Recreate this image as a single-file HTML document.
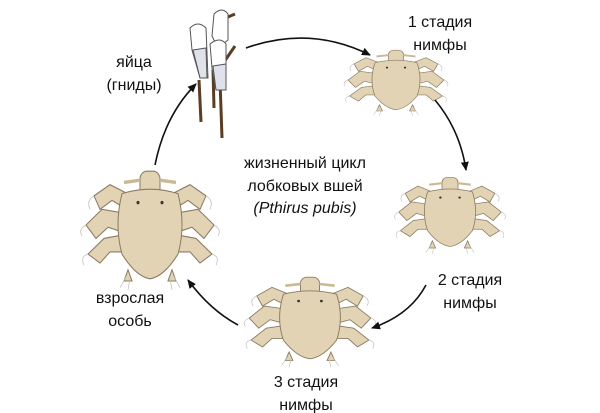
<!DOCTYPE html>
<html><head><meta charset="utf-8"><style>
html,body{margin:0;padding:0;background:#fff;}
svg{display:block}
text{font-family:"Liberation Sans","DejaVu Sans",sans-serif;font-size:16px;fill:#111;text-anchor:middle}
</style></head><body>
<svg width="600" height="413" viewBox="0 0 600 413" xmlns="http://www.w3.org/2000/svg">
<defs>
<marker id="ah" markerWidth="10" markerHeight="10" refX="8" refY="5" orient="auto" markerUnits="userSpaceOnUse">
<path d="M0,1 L9,5 L0,9 Z" fill="#111"/></marker>
<g id="louse">
 <g stroke="#8a7a60" stroke-width="1" fill="#e3d3b5">
  <path d="M-18,-26 L-40,-36 L-56,-26 L-50,-14 L-38,-22 L-20,-12 Z"/>
  <path d="M18,-26 L40,-36 L56,-26 L50,-14 L38,-22 L20,-12 Z"/>
  <path d="M-22,-10 L-48,-14 L-64,0 L-54,12 L-42,2 L-22,8 Z"/>
  <path d="M22,-10 L48,-14 L64,0 L54,12 L42,2 L22,8 Z"/>
  <path d="M-22,8 L-46,12 L-62,26 L-50,34 L-40,24 L-20,24 Z"/>
  <path d="M22,8 L46,12 L62,26 L50,34 L40,24 L20,24 Z"/>
  <rect x="-10" y="-48" width="20" height="24" rx="7"/>
  <path d="M-10,-40 L-26,-38 M10,-40 L26,-38" stroke-width="3" stroke="#cbb894"/>
  <path d="M-28,-28 Q0,-36 28,-28 Q36,0 28,26 Q14,46 0,48 Q-14,46 -28,26 Q-36,0 -28,-28 Z"/>
  <path d="M-22,40 l-4,10 l8,0 Z M22,40 l4,10 l-8,0 Z"/>
 </g>
 <g stroke="#bbb" stroke-width="0.7" fill="none">
  <path d="M-24,46 l-6,10 M-20,48 l-2,10 M24,46 l6,10 M20,48 l2,10 M-56,-26 q-8,4 -4,12 M56,-26 q8,4 4,12 M-64,0 q-8,4 -4,10 M64,0 q8,4 4,10 M-62,26 q-8,2 -4,10 M62,26 q8,2 4,10"/>
 </g>
 <circle cx="-12" cy="-20" r="1.5" fill="#333"/><circle cx="12" cy="-20" r="1.5" fill="#333"/>
</g>
</defs>

<g stroke="#555" stroke-width="1">
 <path d="M199,80 L201,122" stroke="#5a3e24" stroke-width="3"/>
 <path d="M213,70 L214,108" stroke="#5a3e24" stroke-width="3"/>
 <path d="M220,80 L222,138" stroke="#5a3e24" stroke-width="3"/>
 <path d="M224,62 L235,46" stroke="#5a3e24" stroke-width="3"/>
 <path d="M228,17 L235,14" stroke="#5a3e24" stroke-width="3"/>
 <path d="M190,28 Q198,20 206,28 L208,78 L200,78 L192,50 Z" fill="#fff"/>
 <path d="M193,50 L206,48 L207,78 L200,78 Z" fill="#dfe2ea"/>
 <path d="M214,14 Q222,6 228,14 L228,40 L218,48 L212,36 Z" fill="#fff"/>
 <path d="M210,44 Q220,36 226,44 L226,90 L216,90 L212,68 Z" fill="#fff"/>
 <path d="M213,66 L226,64 L226,90 L216,90 Z" fill="#dfe2ea"/>
</g>

<use href="#louse" transform="translate(396,80) scale(0.75,0.62)"/>
<use href="#louse" transform="translate(450,212) scale(0.8,0.72)"/>
<use href="#louse" transform="translate(310,318) scale(0.95,0.85)"/>
<use href="#louse" transform="translate(150,225) scale(1.0,1.12)"/>

<g fill="none" stroke="#111" stroke-width="1.6" marker-end="url(#ah)">
 <path d="M246,48 Q310,25 370,55"/>
 <path d="M435,100 Q460,130 466,170"/>
 <path d="M426,285 Q410,315 372,328"/>
 <path d="M238,325 Q210,310 188,280"/>
 <path d="M155,165 Q165,115 196,84"/>
</g>

<text x="440" y="27">1 стадия</text><text x="440" y="50">нимфы</text>
<text x="470" y="285">2 стадия</text><text x="470" y="308">нимфы</text>
<text x="306" y="387">3 стадия</text><text x="306" y="410">нимфы</text>
<text x="130" y="303">взрослая</text><text x="130" y="326">особь</text>
<text x="134" y="67">яйца</text><text x="134" y="90">(гниды)</text>
<text x="305" y="168">жизненный цикл</text>
<text x="305" y="191">лобковых вшей</text>
<text x="305" y="213" font-style="italic">(Pthirus pubis)</text>
</svg>
</body></html>
